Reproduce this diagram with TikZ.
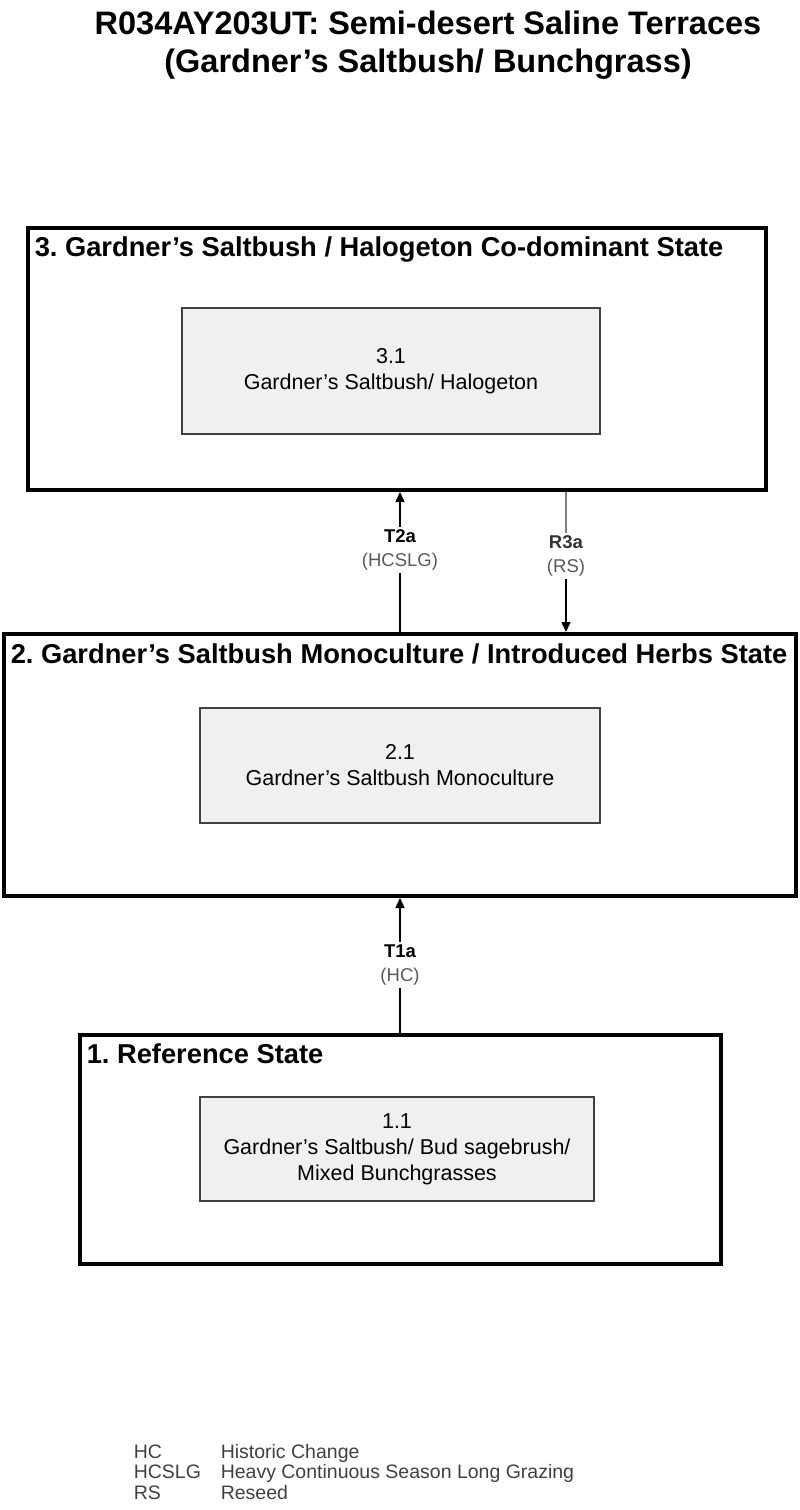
\documentclass[tikz,border=0pt]{standalone}
\usepackage{fontspec}
\setmainfont{Liberation Sans}
\tikzset{
every picture/.style={
line width=1.5pt
}}
\usetikzlibrary{positioning, calc}
\usetikzlibrary{arrows.meta}

\tikzset{
  heading/.style={align=center, inner sep=0pt, font=\fontsize{32.5}{38}\selectfont\bfseries},
  state/.style={draw, line width=4pt, inner sep=0pt},
  statetitle/.style={anchor=base west, inner sep=0pt, font=\fontsize{27.3}{32}\selectfont\bfseries},
  community/.style={draw=black!75, fill=black!6, align=center, inner sep=0pt,
    font=\fontsize{21.5}{26}\selectfont},
  pathlabel/.style={fill=white, align=center, inner sep=2pt, font=\fontsize{18.5}{24}\selectfont},
  arr/.style={-{Triangle[length=10pt, width=9pt]}},
  legend/.style={anchor=base west, inner sep=0pt, text=black!75, font=\fontsize{19.5}{21}\selectfont}
}
\newcommand{\paren}[1]{\textcolor{black!65}{(#1)}}

\begin{document}
\frenchspacing
\begin{tikzpicture}[x=1pt, y=-1pt]
  \useasboundingbox (0,0) rectangle (800,1510);

  \node [heading] (title) at (428,45) {R034AY203UT: Semi-desert Saline Terraces\\(Gardner’s Saltbush/ Bunchgrass)};

  % states
  \node [state, minimum width=738pt, minimum height=262pt] (s3) at (397,359) {};
  \node [state, minimum width=792pt, minimum height=262pt] (s2) at (400,765) {};
  \node [state, minimum width=641pt, minimum height=229pt] (s1) at (400.5,1149.5) {};

  \node [statetitle] (s3title) at ($(s3.north west)+(8,30)$) {3. Gardner’s Saltbush / Halogeton Co-dominant State};
  \node [statetitle] (s2title) at ($(s2.north west)+(8,31)$) {2. Gardner’s Saltbush Monoculture / Introduced Herbs State};
  \node [statetitle] (s1title) at ($(s1.north west)+(8,30)$) {1. Reference State};

  % communities
  \node [community, minimum width=418pt, minimum height=126pt] (c31) at (391,371) {3.1\\Gardner’s Saltbush/ Halogeton};
  \node [community, minimum width=400pt, minimum height=115pt] (c21) at (400,765.5) {2.1\\Gardner’s Saltbush Monoculture};
  \node [community, minimum width=394pt, minimum height=104pt] (c11) at (397,1149) {1.1\\Gardner’s Saltbush/ Bud sagebrush/\\Mixed Bunchgrasses};

  % transitions
  \node [pathlabel] (t2a) at (400,550) {\textbf{T2a}\\\paren{HCSLG}};
  \node [pathlabel] (r3a) at (566,556) {\textcolor{black!80}{\textbf{R3a}}\\\paren{RS}};
  \node [pathlabel] (t1a) at (400,965) {\textbf{T1a}\\\paren{HC}};

  \draw (s2.north -| t2a) -- (t2a.south);
  \draw [arr] (t2a.north) -- (t2a |- s3.south);
  \draw [black!50] (r3a |- s3.south) -- (r3a.north);
  \draw [arr] (r3a.south) -- (r3a |- s2.north);
  \draw (s1.north -| t1a) -- (t1a.south);
  \draw [arr] (t1a.north) -- (t1a |- s2.south);

  % legend
  \foreach \a/\b [count=\i] in {HC/Historic Change, HCSLG/Heavy Continuous Season Long Grazing, RS/Reseed} {
    \node [legend] (abbr\i) at (133, 1437.5+20.5*\i) {\a};
    \node [legend] (expl\i) at (220, 1437.5+20.5*\i) {\b};
  }

\end{tikzpicture}
\end{document}
